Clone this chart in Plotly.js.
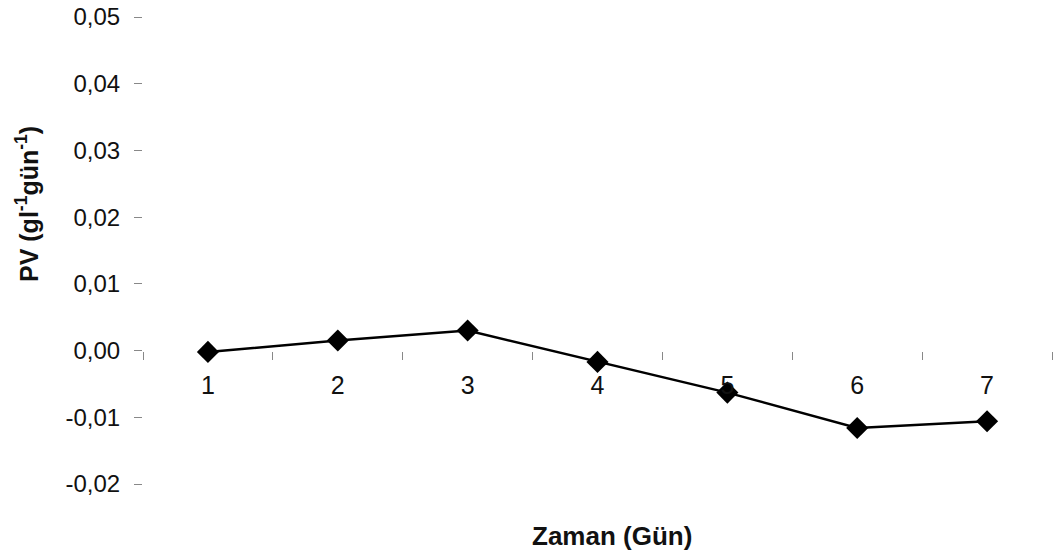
<!DOCTYPE html>
<html>
<head>
<meta charset="utf-8">
<script src="https://cdn.plot.ly/plotly-3.0.1.min.js"></script>
<style>html,body{margin:0;padding:0;background:#fff;}#chart{width:1053px;height:553px;}</style>
</head>
<body>
<div id="chart"></div>
<script>
const days = ['1', '2', '3', '4', '5', '6', '7'];
const pvValues = [-0.0002, 0.0015, 0.0030, -0.0017, -0.0063, -0.0116, -0.0106];
const yTickVals = [-0.02, -0.01, 0, 0.01, 0.02, 0.03, 0.04, 0.05];
const yTickText = ['-0,02', '-0,01', '0,00', '0,01', '0,02', '0,03', '0,04', '0,05'];
const xTitle = 'Zaman (Gün)';
const yTitle = 'PV (gl<sup>-1</sup>gün<sup>-1</sup>)';

const yMin = -0.02, yMax = 0.05;
const fontFam = 'Liberation Sans, Arial, sans-serif';

const trace = {
  x: days,
  y: pvValues,
  type: 'scatter',
  mode: 'lines+markers',
  line: {color: '#000', width: 2.5},
  marker: {symbol: 'diamond', size: 17, color: '#000'},
  cliponaxis: false,
  showlegend: false
};

const layout = {
  width: 1053,
  height: 553,
  margin: {l: 143, r: 1, t: 17, b: 69},
  paper_bgcolor: '#fff',
  plot_bgcolor: '#fff',
  font: {family: fontFam, color: '#111', size: 24},
  xaxis: {
    type: 'category',
    range: [-0.5, 6.5],
    anchor: 'free',
    position: (0 - yMin) / (yMax - yMin),
    showline: false,
    showgrid: false,
    zeroline: false,
    ticks: 'outside',
    tickson: 'boundaries',
    ticklen: 8,
    tickwidth: 1,
    tickcolor: '#888',
    ticklabelstandoff: 17,
    tickfont: {family: fontFam, size: 25, color: '#111'}
  },
  yaxis: {
    range: [yMin, yMax],
    tickvals: yTickVals,
    ticktext: yTickText,
    showline: false,
    showgrid: false,
    zeroline: false,
    ticks: 'outside',
    ticklen: 8,
    tickwidth: 1,
    tickcolor: '#888',
    ticklabelstandoff: 9,
    tickfont: {family: fontFam, size: 24, color: '#111'}
  },
  annotations: [
    {
      text: xTitle, xref: 'paper', yref: 'paper',
      x: (612 - 143) / 909, y: (484 - 536) / 467,
      xanchor: 'center', yanchor: 'middle', showarrow: false,
      font: {family: fontFam, size: 26, color: '#111', weight: 'bold'}
    },
    {
      text: yTitle, xref: 'paper', yref: 'paper',
      x: (27 - 143) / 909, y: (484 - 204) / 467,
      xanchor: 'center', yanchor: 'middle', showarrow: false, textangle: -90,
      font: {family: fontFam, size: 25, color: '#111', weight: 'bold'}
    }
  ]
};

Plotly.newPlot('chart', [trace], layout, {displayModeBar: false, staticPlot: true});
</script>
</body>
</html>
